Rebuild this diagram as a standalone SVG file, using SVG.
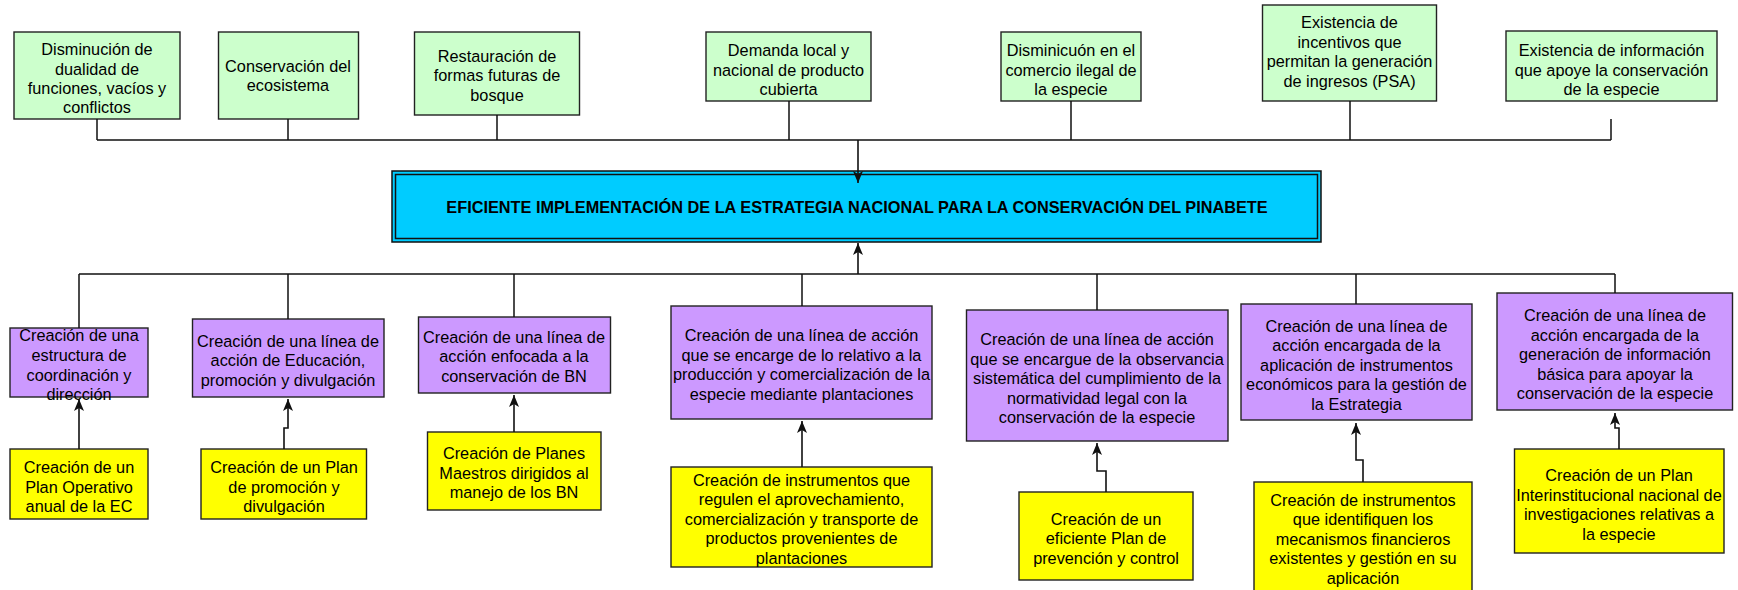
<svg xmlns="http://www.w3.org/2000/svg" width="1738" height="590" viewBox="0 0 1738 590">
<style>
text{font-family:"Liberation Sans",Arial,sans-serif;font-size:16.3px;fill:#000;text-anchor:middle}
.g{fill:#ccffcc;stroke:#222;stroke-width:1.4}
.p{fill:#cc99ff;stroke:#222;stroke-width:1.4}
.y{fill:#ffff00;stroke:#222;stroke-width:1.4}
.ln{fill:none;stroke:#111;stroke-width:1.5}
.ar{fill:none;stroke:#111;stroke-width:1.6}
.t{font-weight:bold}
</style>
<defs>
<marker id="ah" viewBox="0 0 12 10" refX="12" refY="5" markerWidth="12" markerHeight="10" markerUnits="userSpaceOnUse" orient="auto">
<path d="M0,0 L12,5 L0,10 L3,5 Z" fill="#111"/>
</marker>
</defs>

<g id="b1"><rect class="g" x="14" y="32" width="166" height="87"/>
<text x="97"><tspan x="97" y="55">Disminución de</tspan><tspan x="97" y="74.5">dualidad de</tspan><tspan x="97" y="94">funciones, vacíos y</tspan><tspan x="97" y="113">conflictos</tspan></text></g>
<g id="b2"><rect class="g" x="218.5" y="32" width="140" height="87"/>
<text><tspan x="288" y="71.5">Conservación del</tspan><tspan x="288" y="91">ecosistema</tspan></text></g>
<g id="b3"><rect class="g" x="414.5" y="32" width="165" height="83"/>
<text><tspan x="497" y="61.5">Restauración de</tspan><tspan x="497" y="81">formas futuras de</tspan><tspan x="497" y="100.5">bosque</tspan></text></g>
<g id="b4"><rect class="g" x="706" y="32" width="165" height="69"/>
<text><tspan x="788.5" y="56">Demanda local y</tspan><tspan x="788.5" y="75.5">nacional de producto</tspan><tspan x="788.5" y="95">cubierta</tspan></text></g>
<g id="b5"><rect class="g" x="1001" y="32" width="140" height="69"/>
<text><tspan x="1071" y="56">Disminicuón en el</tspan><tspan x="1071" y="75.5">comercio ilegal de</tspan><tspan x="1071" y="95">la especie</tspan></text></g>
<g id="b6"><rect class="g" x="1262.5" y="5" width="174" height="96"/>
<text><tspan x="1349.5" y="28">Existencia de</tspan><tspan x="1349.5" y="47.5">incentivos que</tspan><tspan x="1349.5" y="67">permitan la generación</tspan><tspan x="1349.5" y="86.5">de ingresos (PSA)</tspan></text></g>
<g id="b7"><rect class="g" x="1506" y="31" width="211" height="70"/>
<text><tspan x="1611.5" y="56">Existencia de información</tspan><tspan x="1611.5" y="75.5">que apoye la conservación</tspan><tspan x="1611.5" y="95">de la especie</tspan></text></g>

<g id="main">
<rect x="392" y="171" width="929" height="71" fill="#00ccff" stroke="#111" stroke-width="1.5"/>
<rect x="395.5" y="174.5" width="922" height="64" fill="none" stroke="#111" stroke-width="1.5"/>
<text class="t" x="857" y="213">EFICIENTE IMPLEMENTACIÓN DE LA ESTRATEGIA NACIONAL PARA LA CONSERVACIÓN DEL PINABETE</text>
</g>

<g id="p1"><rect class="p" x="10" y="328" width="138" height="69"/>
<text><tspan x="79" y="341">Creación de una</tspan><tspan x="79" y="361">estructura de</tspan><tspan x="79" y="380.5">coordinación y</tspan><tspan x="79" y="400">dirección</tspan></text></g>
<g id="p2"><rect class="p" x="192.5" y="319" width="191.5" height="78"/>
<text><tspan x="288" y="346.5">Creación de una línea de</tspan><tspan x="288" y="366">acción de Educación,</tspan><tspan x="288" y="385.5">promoción y divulgación</tspan></text></g>
<g id="p3"><rect class="p" x="418.5" y="317" width="192" height="76"/>
<text><tspan x="514" y="342.5">Creación de una línea de</tspan><tspan x="514" y="362">acción enfocada a la</tspan><tspan x="514" y="381.5">conservación de BN</tspan></text></g>
<g id="p4"><rect class="p" x="671" y="306" width="261" height="113"/>
<text><tspan x="801.5" y="341">Creación de una línea de acción</tspan><tspan x="801.5" y="360.5">que se encarge de lo relativo a la</tspan><tspan x="801.5" y="380">producción y comercialización de la</tspan><tspan x="801.5" y="399.5">especie mediante plantaciones</tspan></text></g>
<g id="p5"><rect class="p" x="966.5" y="310" width="261.5" height="131"/>
<text><tspan x="1097" y="345">Creación de una línea de acción</tspan><tspan x="1097" y="364.5">que se encargue de la observancia</tspan><tspan x="1097" y="384">sistemática del cumplimiento de la</tspan><tspan x="1097" y="403.5">normatividad legal con la</tspan><tspan x="1097" y="423">conservación de la especie</tspan></text></g>
<g id="p6"><rect class="p" x="1241" y="304" width="231" height="116"/>
<text><tspan x="1356.5" y="331.5">Creación de una línea de</tspan><tspan x="1356.5" y="351">acción encargada de la</tspan><tspan x="1356.5" y="370.5">aplicación de instrumentos</tspan><tspan x="1356.5" y="390">económicos para la gestión de</tspan><tspan x="1356.5" y="409.5">la Estrategia</tspan></text></g>
<g id="p7"><rect class="p" x="1497" y="293" width="235.5" height="117"/>
<text><tspan x="1615" y="321">Creación de una línea de</tspan><tspan x="1615" y="340.5">acción encargada de la</tspan><tspan x="1615" y="360">generación de información</tspan><tspan x="1615" y="379.5">básica para apoyar la</tspan><tspan x="1615" y="399">conservación de la especie</tspan></text></g>

<g id="y1"><rect class="y" x="10" y="449" width="138" height="70"/>
<text><tspan x="79" y="473">Creación de un</tspan><tspan x="79" y="492.5">Plan Operativo</tspan><tspan x="79" y="512">anual de la EC</tspan></text></g>
<g id="y2"><rect class="y" x="201" y="449" width="165.5" height="70"/>
<text><tspan x="284" y="473">Creación de un Plan</tspan><tspan x="284" y="492.5">de promoción y</tspan><tspan x="284" y="512">divulgación</tspan></text></g>
<g id="y3"><rect class="y" x="427.5" y="432" width="173.5" height="78"/>
<text><tspan x="514" y="459">Creación de Planes</tspan><tspan x="514" y="478.5">Maestros dirigidos al</tspan><tspan x="514" y="498">manejo de los BN</tspan></text></g>
<g id="y4"><rect class="y" x="671" y="467" width="261" height="100"/>
<text><tspan x="801.5" y="485.5">Creación de instrumentos que</tspan><tspan x="801.5" y="505">regulen el aprovechamiento,</tspan><tspan x="801.5" y="524.5">comercialización y transporte de</tspan><tspan x="801.5" y="544">productos provenientes de</tspan><tspan x="801.5" y="563.5">plantaciones</tspan></text></g>
<g id="y5"><rect class="y" x="1019" y="492" width="174" height="88"/>
<text><tspan x="1106" y="524.5">Creación de un</tspan><tspan x="1106" y="544">eficiente Plan de</tspan><tspan x="1106" y="563.5">prevención y control</tspan></text></g>
<g id="y6"><rect class="y" x="1254" y="482" width="218" height="115"/>
<text><tspan x="1363" y="505.5">Creación de instrumentos</tspan><tspan x="1363" y="525">que identifiquen los</tspan><tspan x="1363" y="544.5">mecanismos financieros</tspan><tspan x="1363" y="564">existentes y gestión en su</tspan><tspan x="1363" y="583.5">aplicación</tspan></text></g>
<g id="y7"><rect class="y" x="1514.5" y="449" width="209.5" height="104"/>
<text><tspan x="1619" y="481">Creación de un Plan</tspan><tspan x="1619" y="500.5">Interinstitucional nacional de</tspan><tspan x="1619" y="520">investigaciones relativas a</tspan><tspan x="1619" y="539.5">la especie</tspan></text></g>

<g id="connectors">
<path class="ln" d="M97,119 V140 M288,119 V140 M497,115 V140 M789,101 V140 M1071,101 V140 M1350,101 V140 M1611,119 V140 M97,140 H1611"/>
<path class="ar" d="M858,140 V183" marker-end="url(#ah)"/>
<path class="ln" d="M79,274 H1615 M79,274 V328 M288,274 V319 M514,274 V317 M802,274 V306 M1097,274 V310 M1356,274 V304 M1615,274 V293"/>
<path class="ar" d="M858,274 V243" marker-end="url(#ah)"/>
<path class="ar" d="M79,449 V399" marker-end="url(#ah)"/>
<path class="ar" d="M284,449 V428 H288 V399" marker-end="url(#ah)"/>
<path class="ar" d="M514,432 V395" marker-end="url(#ah)"/>
<path class="ar" d="M802,467 V421" marker-end="url(#ah)"/>
<path class="ar" d="M1106,492 V471 H1097 V443" marker-end="url(#ah)"/>
<path class="ar" d="M1363,482 V460 H1356 V423" marker-end="url(#ah)"/>
<path class="ar" d="M1619,449 V428 H1615 V413" marker-end="url(#ah)"/>
</g>
</svg>
